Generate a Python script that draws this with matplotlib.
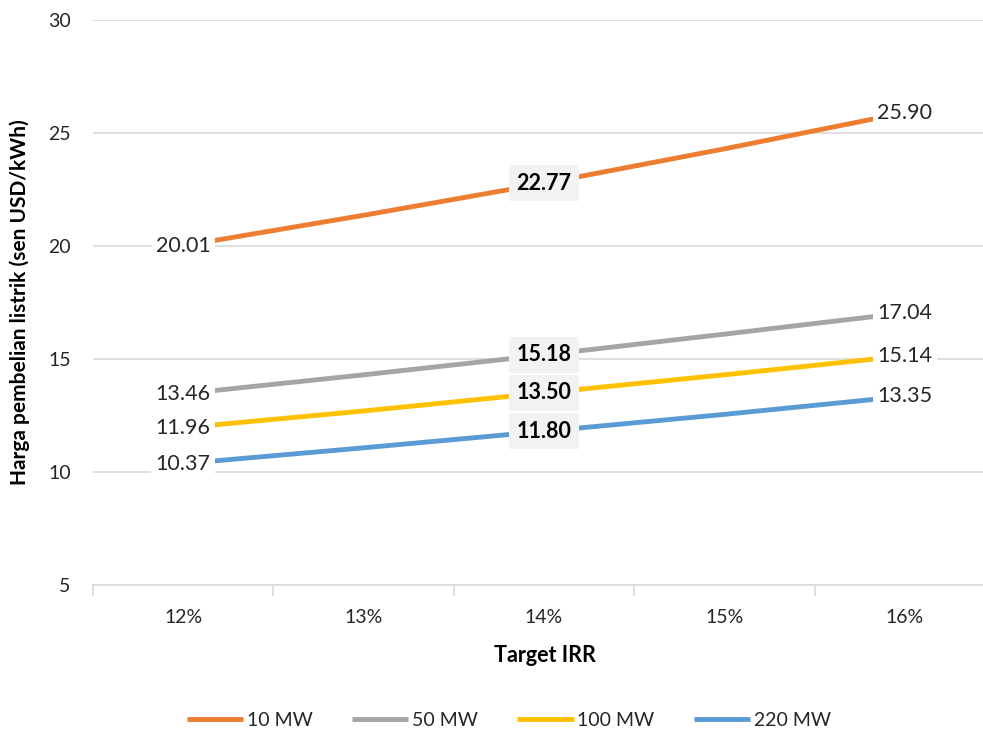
import matplotlib
matplotlib.use('Agg')
import matplotlib.pyplot as plt
import numpy as np

plt.rcParams['font.family'] = ['Lato', 'DejaVu Sans']

# data
irr_labels = ['12%', '13%', '14%', '15%', '16%']
series_names = ['10 MW', '50 MW', '100 MW', '220 MW']
mw10 = [20.01, 21.36, 22.77, 24.30, 25.90]
mw50 = [13.46, 14.30, 15.18, 16.10, 17.04]
mw100 = [11.96, 12.70, 13.50, 14.30, 15.14]
mw220 = [10.37, 11.07, 11.80, 12.55, 13.35]
colors = ['#ED7D31', '#A5A5A5', '#FFC000', '#5B9BD5']

grid_c = '#D9D9D9'
text_c = '#262626'

fig = plt.figure(figsize=(9.83, 7.32), dpi=100)
ax = fig.add_axes([93 / 983, 1 - 585 / 732, 902 / 983, 565 / 732])

x = np.arange(len(irr_labels))
all_series = [mw10, mw50, mw100, mw220]

for vals, name, c in zip(all_series, series_names, colors):
    ax.plot(x, vals, color=c, linewidth=3.5, label=name, solid_capstyle='butt', zorder=3)
    # end labels centred on the point, white box hides line end and grid
    for i in (0, len(x) - 1):
        ax.text(x[i], vals[i], f'{vals[i]:.2f}', ha='center', va='center', fontsize=15.5,
                color=text_c, zorder=5,
                bbox=dict(boxstyle='square,pad=0.2', facecolor='white', edgecolor='none'))
    # middle label, bold on grey box
    ax.text(x[2], vals[2], f'{vals[2]:.2f}', ha='center', va='center', fontsize=15.5,
            fontweight='bold', color='black', zorder=5,
            bbox=dict(boxstyle='square,pad=0.35', facecolor='#F2F2F2', edgecolor='none'))

ax.set_xlim(-0.5, 4.5)
ax.set_ylim(5, 30)
ax.set_yticks([5, 10, 15, 20, 25, 30])
ax.set_xticks(x)
ax.set_xticklabels(irr_labels)
ax.set_xticks(np.arange(-0.5, 5, 1), minor=True)
ax.tick_params(axis='x', which='major', length=0, pad=17, labelsize=14, labelcolor=text_c)
ax.tick_params(axis='x', which='minor', length=8, width=1.2, color=grid_c)
ax.tick_params(axis='y', length=0, pad=16, labelsize=14, labelcolor=text_c)

ax.grid(axis='y', color=grid_c, linewidth=1.2, zorder=0)
for s in ['top', 'right', 'left']:
    ax.spines[s].set_visible(False)
ax.spines['bottom'].set_color(grid_c)
ax.spines['bottom'].set_linewidth(1.2)

ax.set_ylabel('Harga pembelian listrik (sen USD/kWh)', fontsize=15, fontweight='bold',
              color='black')
ax.yaxis.set_label_coords(-63 / 902, 0.5)
ax.set_xlabel('Target IRR', fontsize=15.5, fontweight='bold', color='black')
ax.xaxis.set_label_coords(452 / 902, -60 / 565)

leg = fig.legend(loc='center', bbox_to_anchor=(509 / 983, 1 - 720 / 732), ncol=4, frameon=False,
                 fontsize=14, handlelength=2.9, handletextpad=0.2, columnspacing=2.0)
for t in leg.get_texts():
    t.set_color(text_c)

plt.savefig('out.png', dpi=100)
plt.close()
